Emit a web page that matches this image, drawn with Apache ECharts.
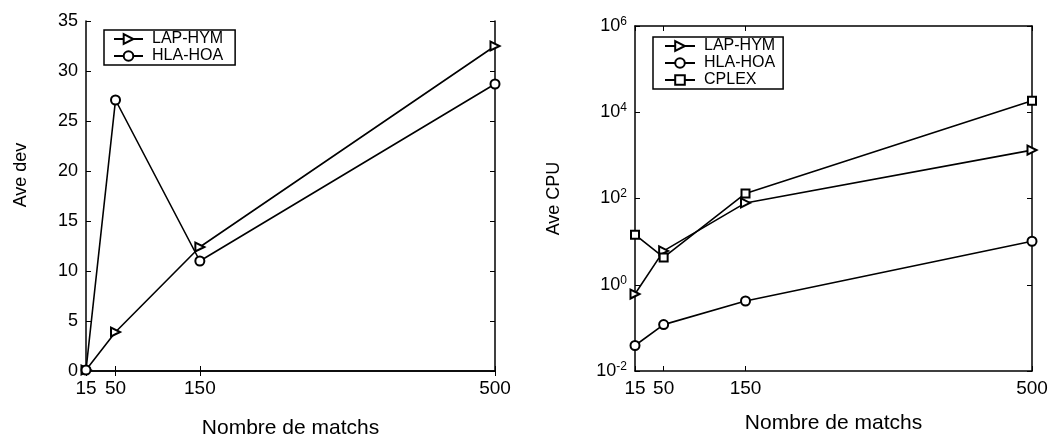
<!DOCTYPE html>
<html>
<head>
<meta charset="utf-8">
<script src="https://cdn.jsdelivr.net/npm/echarts@6/dist/echarts.min.js"></script>
<style>html,body{margin:0;padding:0;background:#fff}#c{width:1059px;height:444px}</style>
</head>
<body>
<div id="c"></div>
<script>
// ---- data ----
const xTicks = [15, 50, 150, 500];
const devLAP = [0.1, 3.9, 12.4, 32.5];
const devHLA = [0.1, 27.1, 11.0, 28.7];
const cpuLAP = [0.61, 6.1, 79, 1325];
const cpuHLA = [0.039, 0.119, 0.42, 10.2];
const cpuCPLEX = [14.5, 4.3, 131, 18450];
const xName = 'Nombre de matchs';
const yNameLeft = 'Ave dev';
const yNameRight = 'Ave CPU';
const names = ['LAP-HYM', 'HLA-HOA', 'CPLEX'];

const pair = arr => xTicks.map((x, i) => [x, arr[i]]);
const FONT = 'Liberation Sans';
const black = '#000';

const axisLineStyle = { show: true, lineStyle: { color: black, width: 1.5 } };
function xAx(grid, pos, showLabel, nameGap) {
  return {
    type: 'value', gridIndex: grid, position: pos, min: 15, max: 500,
    axisLine: axisLineStyle,
    axisTick: { show: true, inside: true, length: 5, customValues: xTicks, lineStyle: { color: black } },
    axisLabel: { show: showLabel, customValues: xTicks, fontFamily: FONT, fontSize: 19, color: black, margin: 8 },
    splitLine: { show: false },
    name: showLabel ? xName : '', nameLocation: 'middle', nameGap: nameGap,
    nameTextStyle: { fontFamily: FONT, fontSize: 21, color: black }
  };
}
const supRich = {
  b: { fontFamily: FONT, fontSize: 18, color: black },
  s: { fontFamily: FONT, fontSize: 12, color: black, verticalAlign: 'top', padding: [0, 0, 9, 0] }
};
const legendText = { fontFamily: FONT, fontSize: 16, color: black, padding: [0, 0, 0, 4] };

const option = {
  backgroundColor: '#fff',
  animation: false,
  grid: [
    { left: 86, right: 564, top: 21, bottom: 69 },
    { left: 635, right: 27, top: 26, bottom: 73 }
  ],
  xAxis: [
    xAx(0, 'bottom', true, 47),
    xAx(0, 'top', false, 0),
    xAx(1, 'bottom', true, 42),
    xAx(1, 'top', false, 0)
  ],
  yAxis: [
    {
      type: 'value', gridIndex: 0, position: 'left', min: 0, max: 35, interval: 5,
      axisLine: axisLineStyle,
      axisTick: { show: true, inside: true, length: 5, lineStyle: { color: black } },
      axisLabel: { fontFamily: FONT, fontSize: 18, color: black, margin: 8 },
      splitLine: { show: false },
      name: yNameLeft, nameLocation: 'middle', nameGap: 56,
      nameTextStyle: { fontFamily: FONT, fontSize: 18, color: black, padding: [0, 0, 0, 42] }
    },
    {
      type: 'value', gridIndex: 0, position: 'right', min: 0, max: 35, interval: 5,
      axisLine: axisLineStyle,
      axisTick: { show: true, inside: true, length: 5, lineStyle: { color: black } },
      axisLabel: { show: false }, splitLine: { show: false }
    },
    {
      type: 'log', logBase: 10, gridIndex: 1, position: 'left', min: 0.01, max: 1e6, interval: 2,
      axisLine: axisLineStyle,
      axisTick: { show: true, inside: true, length: 5, lineStyle: { color: black } },
      axisLabel: {
        margin: 8,
        formatter: v => '{b|10}{s|' + Math.round(Math.log10(v)) + '}',
        rich: supRich
      },
      splitLine: { show: false }, minorTick: { show: false },
      name: yNameRight, nameLocation: 'middle', nameGap: 72,
      nameTextStyle: { fontFamily: FONT, fontSize: 18, color: black }
    },
    {
      type: 'log', logBase: 10, gridIndex: 1, position: 'right', min: 0.01, max: 1e6, interval: 2,
      axisLine: axisLineStyle,
      axisTick: { show: true, inside: true, length: 5, lineStyle: { color: black } },
      axisLabel: { show: false }, splitLine: { show: false }
    }
  ],
  legend: [
    {
      data: [names[0], names[1]], left: 104, top: 30, orient: 'vertical',
      itemGap: 1, itemWidth: 29, itemHeight: 12,
      padding: [1, 12, 1, 9], borderColor: black, borderWidth: 1.5,
      textStyle: legendText
    },
    {
      data: names, left: 653, top: 37, orient: 'vertical',
      itemGap: 1, itemWidth: 30, itemHeight: 12,
      padding: [1, 8, 1, 11], borderColor: black, borderWidth: 1.5,
      textStyle: legendText
    }
  ],
  series: [
    { name: names[0], type: 'line', xAxisIndex: 0, yAxisIndex: 0, data: pair(devLAP),
      symbol: 'emptyTriangle', symbolRotate: -90, symbolSize: 9,
      lineStyle: { color: black, width: 1.6 }, itemStyle: { color: black, borderWidth: 1.3 } },
    { name: names[1], type: 'line', xAxisIndex: 0, yAxisIndex: 0, data: pair(devHLA),
      symbol: 'emptyCircle', symbolSize: 9,
      lineStyle: { color: black, width: 1.6 }, itemStyle: { color: black, borderWidth: 1.3 } },
    { name: names[0], type: 'line', xAxisIndex: 2, yAxisIndex: 2, data: pair(cpuLAP),
      symbol: 'emptyTriangle', symbolRotate: -90, symbolSize: 9,
      lineStyle: { color: black, width: 1.6 }, itemStyle: { color: black, borderWidth: 1.3 } },
    { name: names[1], type: 'line', xAxisIndex: 2, yAxisIndex: 2, data: pair(cpuHLA),
      symbol: 'emptyCircle', symbolSize: 9,
      lineStyle: { color: black, width: 1.6 }, itemStyle: { color: black, borderWidth: 1.3 } },
    { name: names[2], type: 'line', xAxisIndex: 2, yAxisIndex: 2, data: pair(cpuCPLEX),
      symbol: 'emptyRect', symbolSize: 8,
      lineStyle: { color: black, width: 1.6 }, itemStyle: { color: black, borderWidth: 1.3 } }
  ]
};
const chart = echarts.init(document.getElementById('c'), null, { renderer: 'canvas' });
chart.setOption(option);
</script>
</body>
</html>
